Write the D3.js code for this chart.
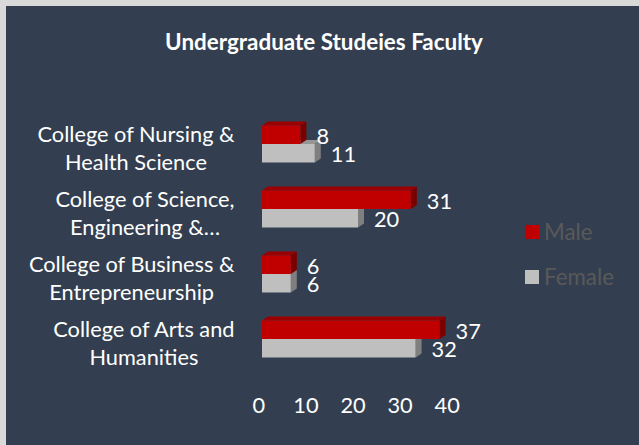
<!DOCTYPE html>
<html>
<head>
<meta charset="utf-8">
<script src="https://cdn.jsdelivr.net/npm/d3@7"></script>
<style>
  html, body { margin: 0; padding: 0; background: #d9d9d9; }
  svg { display: block; }
</style>
</head>
<body>
<svg id="chart" width="639" height="445"></svg>
<script>
// ---- data ----
const title = "Undergraduate Studeies Faculty";
const categories = [
  ["College of Nursing &", "Health Science"],
  ["College of Science,", "Engineering &…"],
  ["College of Business &", "Entrepreneurship"],
  ["College of Arts and", "Humanities"]
];
const seriesNames = ["Male", "Female"];
const male = [8, 31, 6, 37];
const female = [11, 20, 6, 32];
const tickValues = [0, 10, 20, 30, 40];

// ---- styles ----
const FONT = "Lato, 'Open Sans', sans-serif";
const colors = {
  Male:   { front: "#C00000", top: "#9A0000", side: "#7A0000" },
  Female: { front: "#BFBFBF", top: "#969696", side: "#7F7F7F" }
};
const DX = 6, DY = 4;

const svg = d3.select("#chart");

svg.append("rect").attr("x", 6).attr("y", 6).attr("width", 633).attr("height", 439)
  .attr("fill", "#333F50");

function fit(text, weight, target) {
  const t = svg.append("text").attr("font-family", FONT).attr("font-weight", weight)
    .attr("font-size", 100).text(text);
  const w = t.node().getComputedTextLength();
  t.remove();
  return 100 * target / w;
}
const baseSize = fit("College of Nursing &", "normal", 197);
const titleSize = fit(title, "bold", 318);
const legendSize = fit("Female", "normal", 70);

// title
svg.append("text").attr("x", 324).attr("y", 50).attr("text-anchor", "middle")
  .attr("font-family", FONT).attr("font-weight", "bold").attr("font-size", titleSize)
  .attr("fill", "#FFFFFF").text(title);

// scales
const catKeys = categories.map(c => c.join(" "));
const y = d3.scaleBand().domain(catKeys).range([111.5, 371.5]).paddingInner(0).paddingOuter(0);
const ySub = d3.scaleBand().domain(seriesNames).range([0, y.bandwidth()])
  .paddingInner(0).paddingOuter(0.757);
const x = d3.scaleLinear().domain([0, 40]).range([262, 454]);
const xAxis = d3.scaleLinear().domain([0, 40]).range([258.3, 446.7]);

// axis labels
const axisG = svg.append("g").attr("transform", "translate(0,413)")
  .call(d3.axisBottom(xAxis).tickValues(tickValues).tickSize(0).tickPadding(0));
axisG.select(".domain").remove();
axisG.selectAll("text").attr("font-family", FONT).attr("font-size", baseSize)
  .attr("fill", "#FFFFFF").attr("dy", 0);

// category labels
categories.forEach((lines, i) => {
  const c = y(catKeys[i]) + y.bandwidth() / 2;
  const g = svg.append("g");
  const texts = lines.map((ln, j) => g.append("text")
    .attr("y", c - 2 + j * 28)
    .attr("text-anchor", "middle")
    .attr("font-family", FONT).attr("font-size", baseSize)
    .attr("fill", "#FFFFFF").text(ln));
  const maxW = d3.max(texts, t => t.node().getComputedTextLength());
  texts.forEach(t => t.attr("x", 234.5 - maxW / 2));
});

// bars
const data = catKeys.map((k, i) => ({ key: k, Male: male[i], Female: female[i] }));
function drawBar(g, x0, x1, yTop, h, col) {
  g.append("path").attr("fill", col.top)
    .attr("d", `M${x0},${yTop}L${x0 + DX},${yTop - DY}L${x1 + DX},${yTop - DY}L${x1},${yTop}Z`);
  g.append("path").attr("fill", col.side)
    .attr("d", `M${x1},${yTop}L${x1 + DX},${yTop - DY}L${x1 + DX},${yTop + h - DY}L${x1},${yTop + h}Z`);
  g.append("rect").attr("x", x0).attr("y", yTop).attr("width", x1 - x0).attr("height", h)
    .attr("fill", col.front);
}
const barsG = svg.append("g");
data.forEach(d => {
  const g = barsG.append("g");
  ["Female", "Male"].forEach(s => {
    const yTop = y(d.key) + ySub(s);
    drawBar(g, x(0), x(d[s]), yTop, ySub.bandwidth(), colors[s]);
  });
});
// value labels
data.forEach(d => {
  seriesNames.forEach(s => {
    const yTop = y(d.key) + ySub(s);
    svg.append("text")
      .attr("x", x(d[s]) + 16)
      .attr("y", yTop + ySub.bandwidth())
      .attr("font-family", FONT).attr("font-size", baseSize)
      .attr("fill", "#FFFFFF").text(d[s]);
  });
});

// legend
const legendY = { Male: 225, Female: 270 };
seriesNames.forEach(s => {
  svg.append("rect").attr("x", 525).attr("y", legendY[s]).attr("width", 14).attr("height", 14)
    .attr("fill", colors[s].front);
  svg.append("text").attr("x", 544).attr("y", legendY[s] + 14.5)
    .attr("font-family", FONT).attr("font-size", legendSize)
    .attr("fill", "#595959").text(s);
});
</script>
</body>
</html>
